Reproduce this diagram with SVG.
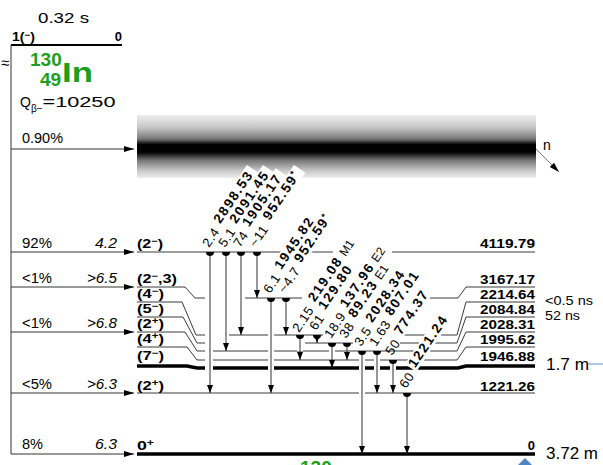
<svg xmlns="http://www.w3.org/2000/svg" width="603" height="465" viewBox="0 0 603 465">
<style>
text{font-family:"Liberation Sans",Arial,sans-serif;fill:#000}
.r{font-size:14px}
.it{font-style:italic}
.lb{font-size:13px;font-weight:bold}
.sup{font-size:9px}
.gi{font-size:13px;letter-spacing:0.6px}
.ge{font-size:13.5px;font-weight:bold;letter-spacing:1.6px}
.mp{font-size:12px}
.grn{fill:#1ca01c;font-weight:bold}
.lv{stroke:#3a3a3a;stroke-width:1;fill:none}
.lvt{stroke:#000;stroke-width:3.5;fill:none}
.feed{stroke:#333;stroke-width:1;fill:none;marker-end:url(#ah)}
.gam{stroke:#333;stroke-width:1;fill:none;marker-start:url(#hd);marker-end:url(#av)}
.halo{stroke:#fff;stroke-width:6;fill:none}
.bx{fill:#fff}
</style>
<defs>
<linearGradient id="band" x1="0" y1="0" x2="0" y2="1">
<stop offset="0" stop-color="#eeeeee"/>
<stop offset="0.2" stop-color="#c6c6c6"/>
<stop offset="0.38" stop-color="#777"/>
<stop offset="0.47" stop-color="#000"/>
<stop offset="0.59" stop-color="#000"/>
<stop offset="0.72" stop-color="#777"/>
<stop offset="0.88" stop-color="#c6c6c6"/>
<stop offset="1" stop-color="#eeeeee"/>
</linearGradient>
<marker id="ah" markerUnits="userSpaceOnUse" markerWidth="10" markerHeight="8" viewBox="0 0 10 8" refX="10" refY="4" orient="auto"><path d="M0,1 L10,4 L0,7 Z" fill="#000"/></marker>
<marker id="av" markerUnits="userSpaceOnUse" markerWidth="8" markerHeight="6" viewBox="0 0 8 6" refX="8" refY="3" orient="auto"><path d="M0,0 L8,3 L0,6 Z" fill="#000"/></marker>
<marker id="hd" markerUnits="userSpaceOnUse" markerWidth="10" markerHeight="10" viewBox="-5 -5 10 10" refX="0" refY="0" orient="0"><path d="M-4,0 A4,4 0 0 0 4,0 Z" fill="#000"/></marker>
<marker id="an" markerUnits="userSpaceOnUse" markerWidth="10" markerHeight="8" viewBox="0 0 10 8" refX="10" refY="4" orient="auto"><path d="M0,1 L10,4 L0,7 Z" fill="#000"/></marker>
</defs>

<g id="parent">
<text class="r" x="38" y="23" font-size="15" textLength="51" lengthAdjust="spacingAndGlyphs">0.32 s</text>
<text class="lb" x="12" y="41" font-size="11" textLength="23" lengthAdjust="spacingAndGlyphs">1(<tspan class="sup" font-size="8" dy="-3">−</tspan><tspan dy="3">)</tspan></text>
<text class="lb" x="122" y="41" font-size="11" text-anchor="end">0</text>
<line x1="11" y1="45" x2="122" y2="45" stroke="#000" stroke-width="2"/>
<line x1="11" y1="45" x2="11" y2="454" stroke="#333" stroke-width="1"/>
<text x="1" y="68" font-size="15">≈</text>
<text class="grn" x="30" y="66" font-size="19">130</text>
<text class="grn" x="40" y="86" font-size="19">49</text>
<text class="grn" x="62" y="82" font-size="28" textLength="31" lengthAdjust="spacingAndGlyphs">In</text>
<text class="r" x="20" y="107" font-size="16">Q<tspan font-size="10" dy="5">β−</tspan><tspan dy="-5" textLength="73" lengthAdjust="spacingAndGlyphs">=10250</tspan></text>
</g>

<g id="continuum">
<rect x="137" y="115" width="399" height="63" fill="url(#band)"/>
<line x1="536" y1="149" x2="559" y2="172" stroke="#777" stroke-width="1" marker-end="url(#an)"/>
<text class="r" x="543" y="150">n</text>
</g>

<g id="feeding">
<line class="feed" x1="11" y1="149" x2="134" y2="149"/>
<line class="feed" x1="11" y1="252" x2="134" y2="252"/>
<line class="feed" x1="11" y1="287" x2="134" y2="287"/>
<line class="feed" x1="11" y1="332" x2="134" y2="332"/>
<line class="feed" x1="11" y1="393" x2="134" y2="393"/>
<line class="feed" x1="11" y1="454" x2="134" y2="454"/>
<text class="r" x="22" y="143" textLength="41" lengthAdjust="spacingAndGlyphs">0.90%</text>
<text class="r" x="22" y="248" textLength="30" lengthAdjust="spacingAndGlyphs">92%</text>
<text class="r it" x="95" y="248" textLength="22" lengthAdjust="spacingAndGlyphs">4.2</text>
<text class="r" x="22" y="283" textLength="30" lengthAdjust="spacingAndGlyphs">&lt;1%</text>
<text class="r it" x="87" y="283" textLength="30" lengthAdjust="spacingAndGlyphs">&gt;6.5</text>
<text class="r" x="22" y="328" textLength="30" lengthAdjust="spacingAndGlyphs">&lt;1%</text>
<text class="r it" x="87" y="328" textLength="30" lengthAdjust="spacingAndGlyphs">&gt;6.8</text>
<text class="r" x="22" y="389" textLength="30" lengthAdjust="spacingAndGlyphs">&lt;5%</text>
<text class="r it" x="87" y="389" textLength="30" lengthAdjust="spacingAndGlyphs">&gt;6.3</text>
<text class="r" x="22" y="449" textLength="21" lengthAdjust="spacingAndGlyphs">8%</text>
<text class="r it" x="95" y="449" textLength="22" lengthAdjust="spacingAndGlyphs">6.3</text>
</g>

<g id="levels">
<path class="lv" d="M137,252 H333 M392,252 H535"/>
<path class="lv" d="M137,287 H185 L195,298 H205 M245,298 H302 M427,298 H458 L466,287 H535"/>
<path class="lv" d="M137,302 H182 L196,335 H205 M228,335 H323 M402,335 H457 L466,302 H535"/>
<path class="lv" d="M137,317 H183 L197,343 H205 M305,343 H353 M400,343 H457 L466,317 H535"/>
<path class="lv" d="M137,332 H185 L197,351 H205 M213,351 H457 L466,332 H535"/>
<path class="lv" d="M137,347 H187 L197,360 H205 M213,360 H457 L466,347 H535"/>
<path class="lvt" d="M137,366 H187 L197,368 H205 M213,368 H458 L466,366 H535"/>
<path class="lv" d="M137,393 H535"/>
<path class="lvt" d="M137,454 H535"/>
</g>

<g id="level-labels">
<text class="lb" x="137" y="248" textLength="26" lengthAdjust="spacingAndGlyphs">(2<tspan class="sup" dy="-4">−</tspan><tspan dy="4">)</tspan></text>
<text class="lb" x="137" y="283" textLength="40" lengthAdjust="spacingAndGlyphs">(2<tspan class="sup" dy="-4">−</tspan><tspan dy="4">,3)</tspan></text>
<text class="lb" x="137" y="298" textLength="27" lengthAdjust="spacingAndGlyphs">(4<tspan class="sup" dy="-4">−</tspan><tspan dy="4">)</tspan></text>
<text class="lb" x="137" y="313" textLength="27" lengthAdjust="spacingAndGlyphs">(5<tspan class="sup" dy="-4">−</tspan><tspan dy="4">)</tspan></text>
<text class="lb" x="137" y="328" textLength="27" lengthAdjust="spacingAndGlyphs">(2<tspan class="sup" dy="-4">+</tspan><tspan dy="4">)</tspan></text>
<text class="lb" x="137" y="343" textLength="27" lengthAdjust="spacingAndGlyphs">(4<tspan class="sup" dy="-4">+</tspan><tspan dy="4">)</tspan></text>
<text class="lb" x="137" y="360" textLength="27" lengthAdjust="spacingAndGlyphs">(7<tspan class="sup" dy="-4">−</tspan><tspan dy="4">)</tspan></text>
<text class="lb" x="137" y="390" textLength="27" lengthAdjust="spacingAndGlyphs">(2<tspan class="sup" dy="-4">+</tspan><tspan dy="4">)</tspan></text>
<text class="lb" x="137" y="450" textLength="17" lengthAdjust="spacingAndGlyphs">0<tspan class="sup" dy="-4">+</tspan></text>
<text class="lb" x="480" y="248" textLength="55" lengthAdjust="spacingAndGlyphs">4119.79</text>
<text class="lb" x="480" y="284" textLength="55" lengthAdjust="spacingAndGlyphs">3167.17</text>
<text class="lb" x="480" y="299" textLength="55" lengthAdjust="spacingAndGlyphs">2214.64</text>
<text class="lb" x="480" y="314" textLength="55" lengthAdjust="spacingAndGlyphs">2084.84</text>
<text class="lb" x="480" y="329" textLength="55" lengthAdjust="spacingAndGlyphs">2028.31</text>
<text class="lb" x="480" y="344" textLength="55" lengthAdjust="spacingAndGlyphs">1995.62</text>
<text class="lb" x="480" y="361" textLength="55" lengthAdjust="spacingAndGlyphs">1946.88</text>
<text class="lb" x="480" y="391" textLength="55" lengthAdjust="spacingAndGlyphs">1221.26</text>
<text class="lb" x="535" y="450" text-anchor="end">0</text>
<text x="545" y="305" font-size="13" textLength="48" lengthAdjust="spacingAndGlyphs">&lt;0.5 ns</text>
<text x="545" y="320" font-size="13" textLength="35" lengthAdjust="spacingAndGlyphs">52 ns</text>
<text x="546" y="370" font-size="16" textLength="43" lengthAdjust="spacingAndGlyphs">1.7 m</text>
<line x1="588" y1="364" x2="603" y2="364" stroke="#5b8fd0" stroke-width="1"/>
<text x="546" y="459" font-size="17">3.72 m</text>
<text class="grn" x="300" y="474" font-size="19">130</text>
<polygon points="525,458 533,466 517,466" fill="#4f86c6"/>
</g>

<g id="transitions">
<path class="halo" d="M210,256 V384 M226,256 V342 M241,256 V326 M257,256 V289 M271,302 V384 M286,302 V326 M300,339 V351 M332,347 V359 M362,355 V445 M377,355 V384 M393,364 V384 M407,397 V445"/>
<line class="gam" x1="210" y1="252" x2="210" y2="393"/>
<line class="gam" x1="226" y1="252" x2="226" y2="351"/>
<line class="gam" x1="241" y1="252" x2="241" y2="335"/>
<line class="gam" x1="257" y1="252" x2="257" y2="298"/>
<line class="gam" x1="271" y1="298" x2="271" y2="393"/>
<line class="gam" x1="286" y1="298" x2="286" y2="335"/>
<line class="gam" x1="300" y1="335" x2="300" y2="360"/>
<line class="gam" x1="317" y1="335" x2="317" y2="343"/>
<line class="gam" x1="332" y1="343" x2="332" y2="368"/>
<line class="gam" x1="347" y1="343" x2="347" y2="360"/>
<line class="gam" x1="362" y1="351" x2="362" y2="454"/>
<line class="gam" x1="377" y1="351" x2="377" y2="393"/>
<line class="gam" x1="393" y1="360" x2="393" y2="393"/>
<line class="gam" x1="407" y1="393" x2="407" y2="454"/>
</g>

<g id="gamma-labels">
<g transform="translate(209,248) rotate(-56)"><rect class="bx" x="24" y="-15" width="66" height="14"/><text class="gi">2.4</text><text class="ge" x="26" y="-4">2898.53</text></g>
<g transform="translate(225,248) rotate(-56)"><rect class="bx" x="24" y="-15" width="66" height="14"/><text class="gi">5.1</text><text class="ge" x="26" y="-4">2091.45</text></g>
<g transform="translate(240,248) rotate(-56)"><rect class="bx" x="20" y="-15" width="66" height="14"/><text class="gi">74</text><text class="ge" x="22" y="-4">1905.17</text></g>
<g transform="translate(256,248) rotate(-56)"><rect class="bx" x="28" y="-15" width="62" height="14"/><text class="gi">~11</text><text class="ge" x="30" y="-4">952.59<tspan font-size="9" dy="-4">*</tspan></text></g>
<g transform="translate(270,294) rotate(-56)"><rect class="bx" x="24" y="-15" width="64" height="14"/><text class="gi">6.1</text><text class="ge" x="26" y="-4">1945.82</text></g>
<g transform="translate(285,294) rotate(-56)"><rect class="bx" x="32" y="-15" width="60" height="14"/><text class="gi">~4.7</text><text class="ge" x="34" y="-4">952.59<tspan font-size="9" dy="-4">*</tspan></text></g>
<g transform="translate(299,333) rotate(-56)"><rect class="bx" x="32" y="-15" width="76" height="14"/><text class="gi">2.15</text><text class="ge" x="34" y="-4">219.08</text><text class="mp" x="89" y="-4">M1</text></g>
<g transform="translate(316,331) rotate(-56)"><rect class="bx" x="20" y="-15" width="55" height="14"/><text class="gi">61</text><text class="ge" x="22" y="-4">129.80</text></g>
<g transform="translate(331,339) rotate(-56)"><rect class="bx" x="32" y="-15" width="74" height="14"/><text class="gi">18.9</text><text class="ge" x="34" y="-4">137.96</text><text class="mp" x="89" y="-4">E2</text></g>
<g transform="translate(346,339) rotate(-56)"><rect class="bx" x="20" y="-15" width="64" height="14"/><text class="gi">38</text><text class="ge" x="22" y="-4">89.23</text><text class="mp" x="68" y="-4">E1</text></g>
<g transform="translate(361,347) rotate(-56)"><rect class="bx" x="24" y="-15" width="64" height="14"/><text class="gi">3.5</text><text class="ge" x="26" y="-4">2028.34</text></g>
<g transform="translate(376,347) rotate(-56)"><rect class="bx" x="32" y="-15" width="55" height="14"/><text class="gi">1.63</text><text class="ge" x="34" y="-4">807.01</text></g>
<g transform="translate(392,356) rotate(-56)"><rect class="bx" x="20" y="-15" width="55" height="14"/><text class="gi">50</text><text class="ge" x="22" y="-4">774.37</text></g>
<g transform="translate(406,389) rotate(-56)"><rect class="bx" x="20" y="-15" width="64" height="14"/><text class="gi">60</text><text class="ge" x="22" y="-4">1221.24</text></g>
</g>
</svg>
